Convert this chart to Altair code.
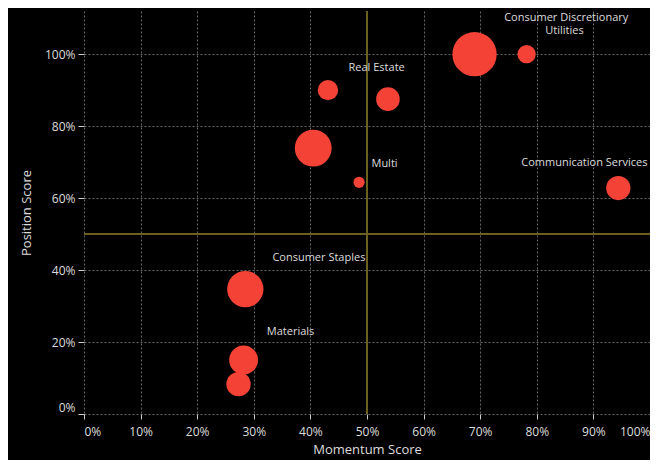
import altair as alt
import pandas as pd

# Bubble data
momentum = [0.69, 0.782, 0.431, 0.537, 0.405, 0.486, 0.944, 0.285, 0.282, 0.273]
position = [1.0, 1.0, 0.9, 0.875, 0.739, 0.644, 0.628, 0.347, 0.15, 0.083]
weight = [625, 106, 132, 177, 433, 40, 188, 420, 266, 188]

# Label data
label_text = ["Consumer Discretionary", "Utilities", "Real Estate", "Multi",
              "Communication Services", "Consumer Staples", "Materials"]
label_x = [0.852, 0.849, 0.517, 0.531, 0.884, 0.415, 0.365]
label_y = [1.101, 1.064, 0.961, 0.694, 0.697, 0.433, 0.228]

x_ticks = [0, 0.1, 0.2, 0.3, 0.4, 0.5, 0.6, 0.7, 0.8, 0.9, 1.0]
y_ticks = [0, 0.2, 0.4, 0.6, 0.8, 1.0]

bubbles = pd.DataFrame({"momentum": momentum, "position": position, "weight": weight})
labels = pd.DataFrame({"text": label_text, "x": label_x, "y": label_y})
refs = pd.DataFrame({"v": [0.5]})

FONT = "Open Sans"
xscale = alt.Scale(domain=[0, 1], nice=False, zero=False)
yscale = alt.Scale(domain=[0, 1.12], nice=False, zero=False)

xaxis = alt.Axis(title="Momentum Score", format=".0%", values=x_ticks,
                 grid=True, gridDash=[2, 2], gridColor="#666666", gridWidth=1,
                 domain=False, tickColor="#cccccc", tickSize=5,
                 labelColor="#dddddd", labelFont=FONT, labelFontSize=12, labelPadding=7,
                 labelFlush=True,
                 titleColor="#dddddd", titleFont=FONT, titleFontSize=13,
                 titleFontWeight="normal", titlePadding=6)
yaxis = alt.Axis(title="Position Score", format=".0%", values=y_ticks,
                 grid=True, gridDash=[2, 2], gridColor="#666666", gridWidth=1,
                 domain=False, tickColor="#cccccc", tickSize=6,
                 labelColor="#dddddd", labelFont=FONT, labelFontSize=12, labelPadding=3,
                 labelFlush=True,
                 titleColor="#dddddd", titleFont=FONT, titleFontSize=13,
                 titleFontWeight="normal", titlePadding=11)

base_points = alt.Chart(bubbles).mark_circle(color="#f44336", opacity=1).encode(
    x=alt.X("momentum:Q", scale=xscale, axis=xaxis),
    y=alt.Y("position:Q", scale=yscale, axis=yaxis),
    size=alt.Size("weight:Q", scale=alt.Scale(domain=[0, 625], range=[0, 1963]), legend=None),
)

vline = alt.Chart(refs).mark_rule(color="#6b6020", strokeWidth=2).encode(
    x=alt.X("v:Q", scale=xscale)
)
hline = alt.Chart(refs).mark_rule(color="#6b6020", strokeWidth=2).encode(
    y=alt.Y("v:Q", scale=yscale)
)

texts = alt.Chart(labels).mark_text(color="#dddddd", font=FONT, fontSize=11,
                                    align="center", baseline="middle").encode(
    x=alt.X("x:Q", scale=xscale),
    y=alt.Y("y:Q", scale=yscale),
    text="text:N",
)

chart = alt.layer(vline, hline, base_points, texts).properties(
    width=566, height=403,
    background="#000000",
    autosize=alt.AutoSizeParams(type="none"),
    padding={"left": 76, "top": 3, "right": 0, "bottom": 46},
).configure_view(stroke=None)

chart.save("out.html", embed_options={"renderer": "svg", "actions": False})
